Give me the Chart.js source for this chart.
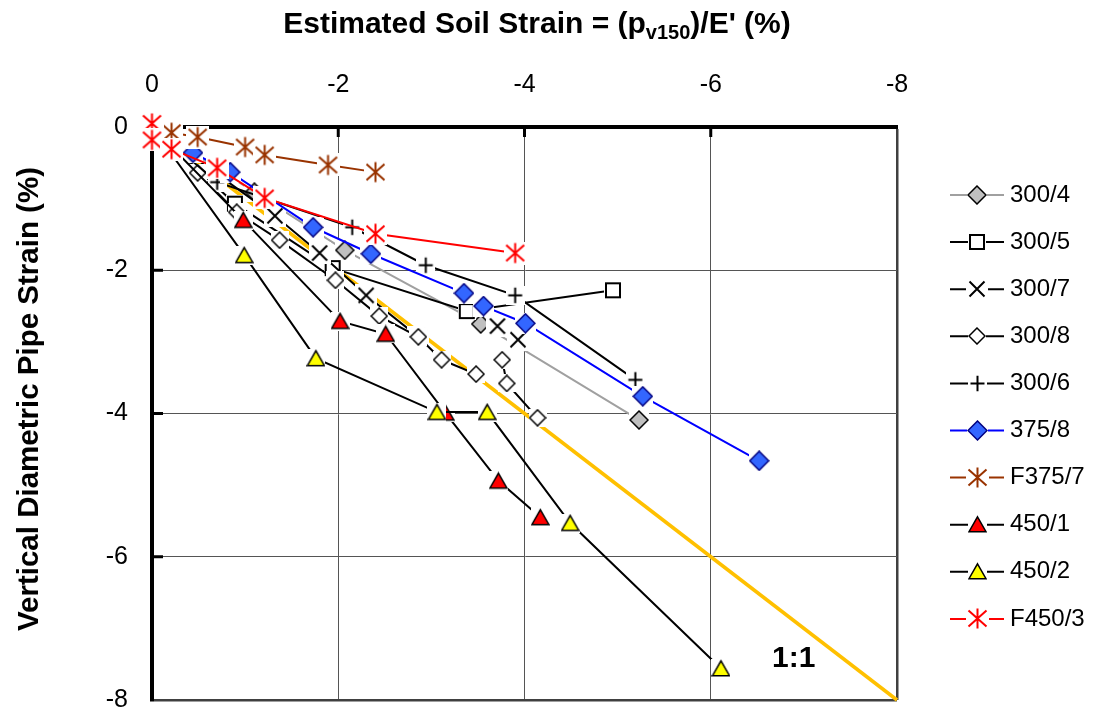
<!DOCTYPE html>
<html>
<head>
	<meta charset="UTF-8">
	<title>Pipe strain vs soil strain</title>
	<script src="https://cdn.jsdelivr.net/npm/chart.js@4.4.1/dist/chart.umd.min.js"></script>
	<style>
		body { margin: 0; background: #fff; }
	</style>
</head>
<body>
	<canvas id="chart_strain" width="1104" height="718"></canvas>
	<script>
	// [soil strain %, pipe strain %] for each test, null breaks the line
	var s300_4  = [[0, 0], [-1.10, -0.91], [-2.07, -1.72], [-3.53, -2.75], [-5.23, -4.09]];
	var s300_5  = [[0, 0], [-0.89, -1.07], [-1.94, -1.97], [-3.38, -2.57], [-4.95, -2.28]];
	var s300_7  = [[0, 0], [-1.32, -1.24], [-1.80, -1.76], [-2.30, -2.35], [-2.86, -2.93], null, [-3.71, -2.78], [-3.93, -2.97]];
	var s300_8  = [[0, 0], [-0.49, -0.64], [-0.91, -1.19], [-1.37, -1.58], [-1.97, -2.14], [-2.44, -2.64], [-2.86, -2.93], [-3.11, -3.25], [-3.48, -3.45], null, [-3.76, -3.25], [-3.81, -3.58], [-4.14, -4.06]];
	var s300_6  = [[0, 0], [-0.70, -0.77], [-2.15, -1.40], [-2.94, -1.93], [-3.90, -2.35], [-5.19, -3.53]];
	var s375_8  = [[0, 0], [-0.44, -0.36], [-0.84, -0.63], [-1.73, -1.40], [-2.35, -1.77], [-3.35, -2.32], [-3.56, -2.50], [-4.01, -2.74], [-5.27, -3.76], [-6.52, -4.66]];
	var sF375_7 = [[-0.21, -0.08], [-0.49, -0.14], [-1.00, -0.28], [-1.21, -0.39], [-1.89, -0.53], [-2.40, -0.63]];
	var s450_1  = [[0, 0], [-0.98, -1.30], [-2.02, -2.71], [-2.51, -2.89], [-3.15, -3.99], [-3.72, -4.94], [-4.17, -5.45]];
	var s450_2  = [[0, 0], [-0.99, -1.79], [-1.76, -3.23], [-3.06, -3.98], [-3.60, -3.98], [-4.49, -5.53], [-6.11, -7.56]];
	var sF450_3 = [[0, 0.05], [0, -0.18], [-0.21, -0.31], [-0.70, -0.57], [-1.21, -0.99], [-2.40, -1.49], [-3.90, -1.76]];
	var oneToOne = [[0, 0], [-8, -8]];
	var oneToOneLabel = [-6.89, -7.43];

	var axisTicks = [-2, -4, -6];

	var FONT = "'Liberation Sans', Arial, sans-serif";

	// Excel-style markers: each one sits on a small white patch
	function makeMarker(shape, fill, stroke, size, halo) {
		var c = document.createElement('canvas');
		c.width = halo;
		c.height = halo;
		var g = c.getContext('2d');
		var m = halo / 2, r = size / 2;
		g.fillStyle = '#fff';
		g.fillRect(0, 0, halo, halo);
		g.strokeStyle = stroke;
		g.fillStyle = fill;
		g.lineWidth = 1.5;
		g.beginPath();
		if (shape == 'diamond') {
			g.moveTo(m, m - r); g.lineTo(m + r, m); g.lineTo(m, m + r); g.lineTo(m - r, m);
			g.closePath(); g.fill(); g.stroke();
		} else if (shape == 'square') {
			g.lineWidth = 2;
			g.rect(m - r, m - r, size, size); g.fill(); g.stroke();
		} else if (shape == 'triangle') {
			g.moveTo(m, m - r * 0.9); g.lineTo(m + r, m + r * 0.85); g.lineTo(m - r, m + r * 0.85);
			g.closePath(); g.fill(); g.stroke();
		} else {
			g.lineWidth = 2;
			if (shape == 'x' || shape == 'star') {
				var ry = shape == 'star' ? r * 0.9 : r;
				g.moveTo(m - r, m - ry); g.lineTo(m + r, m + ry);
				g.moveTo(m + r, m - ry); g.lineTo(m - r, m + ry);
			}
			if (shape == 'plus') {
				g.moveTo(m - r, m); g.lineTo(m + r, m);
			}
			if (shape == 'plus' || shape == 'star') {
				g.moveTo(m, m - r * 1.1); g.lineTo(m, m + r * 1.1);
			}
			g.stroke();
		}
		return c;
	}

	function toPoints(rows) {
		return rows.map(function (p) {
			return p ? { x: p[0], y: p[1] } : { x: null, y: null };
		});
	}

	function series(label, rows, lineColor, marker, idx) {
		return {
			label: label,
			data: toPoints(rows),
			showLine: true,
			borderColor: lineColor,
			borderWidth: 2,
			pointStyle: marker,
			pointRadius: 6,
			spanGaps: false,
			tension: 0,
			clip: false,
			order: -idx
		};
	}

	var datasets = [
		series('300/4', s300_4, '#a0a0a0', makeMarker('diamond', '#c0c0c0', '#000', 18, 20), 0),
		series('300/5', s300_5, '#000', makeMarker('square', '#fff', '#000', 14, 18), 1),
		series('300/7', s300_7, '#000', makeMarker('x', '#fff', '#000', 15, 22), 2),
		series('300/8', s300_8, '#000', makeMarker('diamond', '#fff', '#000', 16, 18), 3),
		series('300/6', s300_6, '#000', makeMarker('plus', '#fff', '#000', 14, 19), 4),
		series('375/8', s375_8, '#0000ff', makeMarker('diamond', '#3366ff', '#000080', 19, 21), 5),
		series('F375/7', sF375_7, '#993300', makeMarker('star', '#fff', '#993300', 18, 23), 6),
		series('450/1', s450_1, '#000', makeMarker('triangle', '#ff0000', '#000', 17, 19), 7),
		series('450/2', s450_2, '#000', makeMarker('triangle', '#ffff00', '#000', 17, 19), 8),
		series('F450/3', sF450_3, '#ff0000', makeMarker('star', '#fff', '#ff0000', 18, 23), 9),
		{
			label: '1:1',
			data: toPoints(oneToOne),
			showLine: true,
			borderColor: '#ffc000',
			borderWidth: 3.5,
			pointRadius: 0,
			clip: false,
			order: 1,
			noLegend: true
		}
	];

	// tick marks inside the plot, axis titles, 1:1 label and the legend
	var decorations = {
		id: 'decorations',
		beforeDatasetsDraw: function (chart) {
			var ctx = chart.ctx, a = chart.chartArea;
			var xs = chart.scales.x, ys = chart.scales.y;
			ctx.save();
			ctx.strokeStyle = '#000';
			ctx.lineWidth = 3;
			axisTicks.forEach(function (v) {
				var px = xs.getPixelForValue(v);
				ctx.beginPath(); ctx.moveTo(px, a.top); ctx.lineTo(px, a.top + 10); ctx.stroke();
				var py = ys.getPixelForValue(v);
				ctx.beginPath(); ctx.moveTo(a.left, py); ctx.lineTo(a.left + 11, py); ctx.stroke();
			});
			ctx.restore();
		},
		afterDraw: function (chart) {
			var ctx = chart.ctx;
			var xs = chart.scales.x, ys = chart.scales.y;
			ctx.save();
			ctx.fillStyle = '#000';
			ctx.textBaseline = 'middle';

			// x title with subscript
			var t1 = 'Estimated Soil Strain = (p', t2 = 'v150', t3 = ")/E' (%)";
			var big = 'bold 30px ' + FONT, small = 'bold 20px ' + FONT;
			ctx.font = big;
			var w1 = ctx.measureText(t1).width, w3 = ctx.measureText(t3).width;
			ctx.font = small;
			var w2 = ctx.measureText(t2).width;
			var x0 = 537 - (w1 + w2 + w3) / 2;
			ctx.textAlign = 'left';
			ctx.font = big;
			ctx.fillText(t1, x0, 25);
			ctx.font = small;
			ctx.fillText(t2, x0 + w1, 33);
			ctx.font = big;
			ctx.fillText(t3, x0 + w1 + w2, 25);

			// y title
			ctx.save();
			ctx.translate(30, 399);
			ctx.rotate(-Math.PI / 2);
			ctx.textAlign = 'center';
			ctx.font = 'bold 29.5px ' + FONT;
			ctx.fillText('Vertical Diametric Pipe Strain (%)', 0, 0);
			ctx.restore();

			// 1:1 label
			ctx.textAlign = 'center';
			ctx.font = 'bold 30px ' + FONT;
			ctx.fillText('1:1', xs.getPixelForValue(oneToOneLabel[0]), ys.getPixelForValue(oneToOneLabel[1]));

			// legend: line, marker, label
			ctx.font = '24px ' + FONT;
			ctx.textAlign = 'left';
			var row = 0;
			chart.data.datasets.forEach(function (ds) {
				if (ds.noLegend) return;
				var y = 195 + row * 47.1;
				ctx.strokeStyle = ds.borderColor;
				ctx.lineWidth = 2;
				ctx.beginPath(); ctx.moveTo(950, y); ctx.lineTo(1004, y); ctx.stroke();
				var img = ds.pointStyle;
				ctx.drawImage(img, Math.round(977 - img.width / 2), Math.round(y - img.height / 2));
				ctx.fillText(ds.label, 1010, y);
				row++;
			});
			ctx.restore();
		}
	};

	function gridColor(c) {
		if (!c.tick || c.tick.value === 0) return 'rgba(0,0,0,0)';
		return c.tick.value === -8 ? '#404040' : '#555555';
	}
	function gridWidth(c) {
		return c.tick && c.tick.value === -8 ? 2.5 : 1;
	}

	Chart.defaults.font.family = FONT;
	Chart.defaults.color = '#000';

	var ctx = document.getElementById('chart_strain').getContext('2d');
	var myChart = new Chart(ctx, {
		type: 'scatter',
		data: { datasets: datasets },
		options: {
			responsive: false,
			animation: false,
			events: [],
			layout: { padding: { left: 0, top: 0, right: 207, bottom: 18 } },
			plugins: {
				legend: { display: false },
				tooltip: { enabled: false }
			},
			scales: {
				x: {
					type: 'linear',
					position: 'top',
					min: -8,
					max: 0,
					reverse: true,
					ticks: { stepSize: 2, padding: 4, font: { size: 25 } },
					grid: { tickLength: 23, tickColor: 'rgba(0,0,0,0)', color: gridColor, lineWidth: gridWidth },
					border: { color: '#000', width: 4 },
					afterFit: function (s) { s.height = 127; }
				},
				y: {
					type: 'linear',
					position: 'left',
					min: -8,
					max: 0,
					ticks: { stepSize: 2, padding: 2, font: { size: 25 } },
					grid: { tickLength: 22, tickColor: 'rgba(0,0,0,0)', color: gridColor, lineWidth: gridWidth },
					border: { color: '#000', width: 4 },
					afterFit: function (s) { s.width = 152; }
				}
			}
		},
		plugins: [decorations]
	});
	</script>
</body>
</html>
